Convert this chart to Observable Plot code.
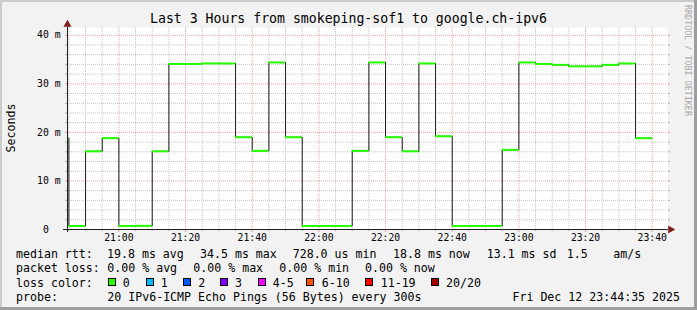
<!DOCTYPE html>
<html>
<head>
<meta charset="utf-8">
<script src="https://cdn.jsdelivr.net/npm/d3@7"></script>
<script src="https://cdn.jsdelivr.net/npm/@observablehq/plot@0.6"></script>
<style>
  html, body { margin: 0; padding: 0; background: #f2f2f2; }
  #chart svg { display: block; }
</style>
</head>
<body>
<div id="chart"></div>
<script>
// ---- data ----
const intervalStarts = ["20:40","20:45","20:50","20:55","21:00","21:05","21:10","21:15","21:20","21:25","21:30","21:35",
  "21:40","21:45","21:50","21:55","22:00","22:05","22:10","22:15","22:20","22:25","22:30","22:35",
  "22:40","22:45","22:50","22:55","23:00","23:05","23:10","23:15","23:20","23:25","23:30","23:35"];
const medianMs = [18.8, 0.73, 16.1, 18.8, 0.73, 0.75, 16.1, 34.1, 34.1, 34.2, 34.2, 19.0,
  16.2, 34.4, 19.0, 0.73, 0.73, 0.73, 16.2, 34.4, 19.0, 16.1, 34.2, 19.2,
  0.73, 0.73, 0.73, 16.4, 34.4, 34.1, 33.9, 33.6, 33.6, 33.9, 34.2, 18.8];
const xTickLabels = ["21:00","21:20","21:40","22:00","22:20","22:40","23:00","23:20","23:40"];
const yTickValues = [0, 10, 20, 30, 40];
const yTickLabels = ["0", "10 m", "20 m", "30 m", "40 m"];
const lossLabels = ["0", "1", "2", "3", "4-5", "6-10", "11-19", "20/20"];
const lossColors = ["#26ff00", "#00b8ff", "#0059ff", "#7e00ff", "#ff00ff", "#ff5500", "#ff0000", "#a00000"];
const titleText = "Last 3 Hours from smokeping-sof1 to google.ch-ipv6";
const statsLine1 = [["median rtt:", 16], ["19.8 ms avg", 107], ["34.5 ms max", 200], ["728.0 us min", 292.7],
  ["18.8 ms now", 393], ["13.1 ms sd", 486.7], ["1.5", 566.7], ["am/s", 613.3]];
const statsLine2 = [["packet loss:", 16], ["0.00 % avg", 107.3], ["0.00 % max", 193.3], ["0.00 % min", 279.3], ["0.00 % now", 365]];
const probeText = "20 IPv6-ICMP Echo Pings (56 Bytes) every 300s";
const dateText = "Fri Dec 12 23:44:35 2025";

// ---- build ----
const T = (s, sec = 0) => { const [h, m] = s.split(":").map(Number); return new Date(Date.UTC(2025, 11, 12, h, m, sec)); };
const t0 = T("20:44", 35), t1 = T("23:44", 35);
const rows = intervalStarts.map((s, i) => ({t: T(s), t2: new Date(+T(s) + 300000), v: medianMs[i]}));
const linePts = rows.map(d => ({t: d.t, v: d.v})).concat([{t: rows[rows.length - 1].t2, v: rows[rows.length - 1].v}]);
const majorT = xTickLabels.map(s => T(s));
const minorT = d3.utcMinute.every(5).range(T("20:45"), T("23:44")).filter(d => d.getUTCMinutes() % 20 !== 0);
const minorY = d3.range(2, 42, 2).filter(v => v % 10 !== 0);
const YMAX = 41.6;
const FONT = "DejaVu Sans Mono";
const gridMinor = "#c4c4c4", gridMajor = "#f0a0a0";

const svg = Plot.plot({
  width: 697, height: 310,
  marginLeft: 67, marginRight: 30, marginTop: 27, marginBottom: 81,
  style: {background: "#f2f2f2", fontFamily: FONT, fontSize: "9.75px", color: "#000", overflow: "visible"},
  x: {type: "utc", domain: [t0, t1], label: null},
  y: {domain: [0, YMAX], label: null},
  marks: [
    Plot.frame({fill: "white", stroke: "none"}),
    Plot.gridX(minorT, {stroke: gridMinor, strokeOpacity: 1, strokeDasharray: "1,1"}),
    Plot.gridY(minorY, {stroke: gridMinor, strokeOpacity: 1, strokeDasharray: "1,1"}),
    Plot.gridX(majorT, {stroke: gridMajor, strokeOpacity: 1, strokeDasharray: "1,1"}),
    Plot.gridY(yTickValues.slice(1), {stroke: gridMajor, strokeOpacity: 1, strokeDasharray: "1,1"}),
    Plot.axisX(minorT, {tickSize: 2, fill: "none", stroke: "#ababab"}),
    Plot.axisX(majorT, {tickSize: 3, fill: "none", stroke: "#eb9595"}),
    Plot.axisY(minorY, {tickSize: 2, fill: "none", stroke: "#ababab", label: null}),
    Plot.axisY(yTickValues.slice(1), {tickSize: 2, fill: "none", stroke: "#eb9595", label: null}),
    Plot.axisY(minorY, {anchor: "right", tickSize: 2, fill: "none", stroke: "#ababab", label: null}),
    Plot.axisY(yTickValues.slice(1), {anchor: "right", tickSize: 2, fill: "none", stroke: "#eb9595", label: null}),
    Plot.axisX(majorT, {tickSize: 0, tickPadding: 4.5, fontSize: 9.75, fill: "#000",
      tickFormat: d => xTickLabels[majorT.findIndex(m => +m === +d)], label: null}),
    Plot.axisY(yTickValues, {tickSize: 0, tickPadding: 7, fontSize: 9.75, fill: "#000", label: null,
      tickFormat: d => { const s = yTickLabels[yTickValues.indexOf(d)]; return d === 0 ? s + "\u00a0\u00a0" : s; }}),
    Plot.line(linePts, {x: "t", y: "v", curve: "step-after", stroke: "#1a1a1a", strokeWidth: 1, clip: "frame"}),
    Plot.ruleY(rows, {x1: "t", x2: "t2", y: "v", stroke: "#26ff00", strokeWidth: 2, clip: "frame"}),
    Plot.ruleY([0], {stroke: "#1f1f1f", insetLeft: -4, insetRight: -1}),
    Plot.ruleX([t0], {stroke: "#1f1f1f", insetBottom: -3, insetTop: -1}),
    Plot.dot([0], {frameAnchor: "top-left", symbol: "triangle", r: 3, fill: "#801f1f", stroke: "none", dy: -3}),
    Plot.dot([0], {frameAnchor: "bottom-right", symbol: "triangle", r: 3, rotate: 90, fill: "#801f1f", stroke: "none", dx: 3})
  ]
});
document.getElementById("chart").appendChild(svg);

// ---- extra text, legend, border ----
const g = d3.select(svg).append("g").attr("font-family", FONT).attr("fill", "#000").attr("text-anchor", "start");
g.append("text").attr("x", 348.5).attr("y", 23).attr("text-anchor", "middle").attr("font-size", "13.2px").text(titleText);
g.append("text").attr("transform", "translate(14.5,128) rotate(-90)").attr("text-anchor", "middle")
  .attr("font-size", "11.6px").text("Seconds");
g.append("text").attr("transform", "translate(684.5,5) rotate(90)").attr("font-size", "8.4px")
  .attr("fill", "#a8a8a8").text("RRDTOOL / TOBI OETIKER");

const LF = "11.6px";
const base = [258.2, 272.4, 286.5, 300.7];
statsLine1.forEach(([s, x]) => g.append("text").attr("x", x).attr("y", base[0]).attr("font-size", LF).text(s));
statsLine2.forEach(([s, x]) => g.append("text").attr("x", x).attr("y", base[1]).attr("font-size", LF).text(s));
g.append("text").attr("x", 16).attr("y", base[2]).attr("font-size", LF).text("loss color:");
const boxX = [107.7, 145.7, 182.7, 220, 257.7, 306, 365, 430.7];
const labX = [122.7, 160.7, 198.3, 235, 272.7, 321.7, 380.7, 446];
lossLabels.forEach((lab, i) => {
  g.append("rect").attr("x", Math.round(boxX[i]) + 0.5).attr("y", 278.5).attr("width", 7).attr("height", 7)
    .attr("fill", lossColors[i]).attr("stroke", "#000").attr("stroke-width", 1);
  g.append("text").attr("x", labX[i]).attr("y", base[2]).attr("font-size", LF).text(lab);
});
g.append("text").attr("x", 16).attr("y", base[3]).attr("font-size", LF).text("probe:");
g.append("text").attr("x", 107.3).attr("y", base[3]).attr("font-size", LF).text(probeText);
g.append("text").attr("x", 680).attr("y", base[3]).attr("text-anchor", "end").attr("font-size", LF).text(dateText);

const b = d3.select(svg).append("g");
b.append("rect").attr("x", 0).attr("y", 0).attr("width", 697).attr("height", 2).attr("fill", "#cbcbcb");
b.append("rect").attr("x", 0).attr("y", 0).attr("width", 2).attr("height", 310).attr("fill", "#cbcbcb");
b.append("rect").attr("x", 0).attr("y", 307).attr("width", 697).attr("height", 3).attr("fill", "#9e9e9e");
b.append("rect").attr("x", 694).attr("y", 0).attr("width", 3).attr("height", 310).attr("fill", "#9e9e9e");
</script>
</body>
</html>
